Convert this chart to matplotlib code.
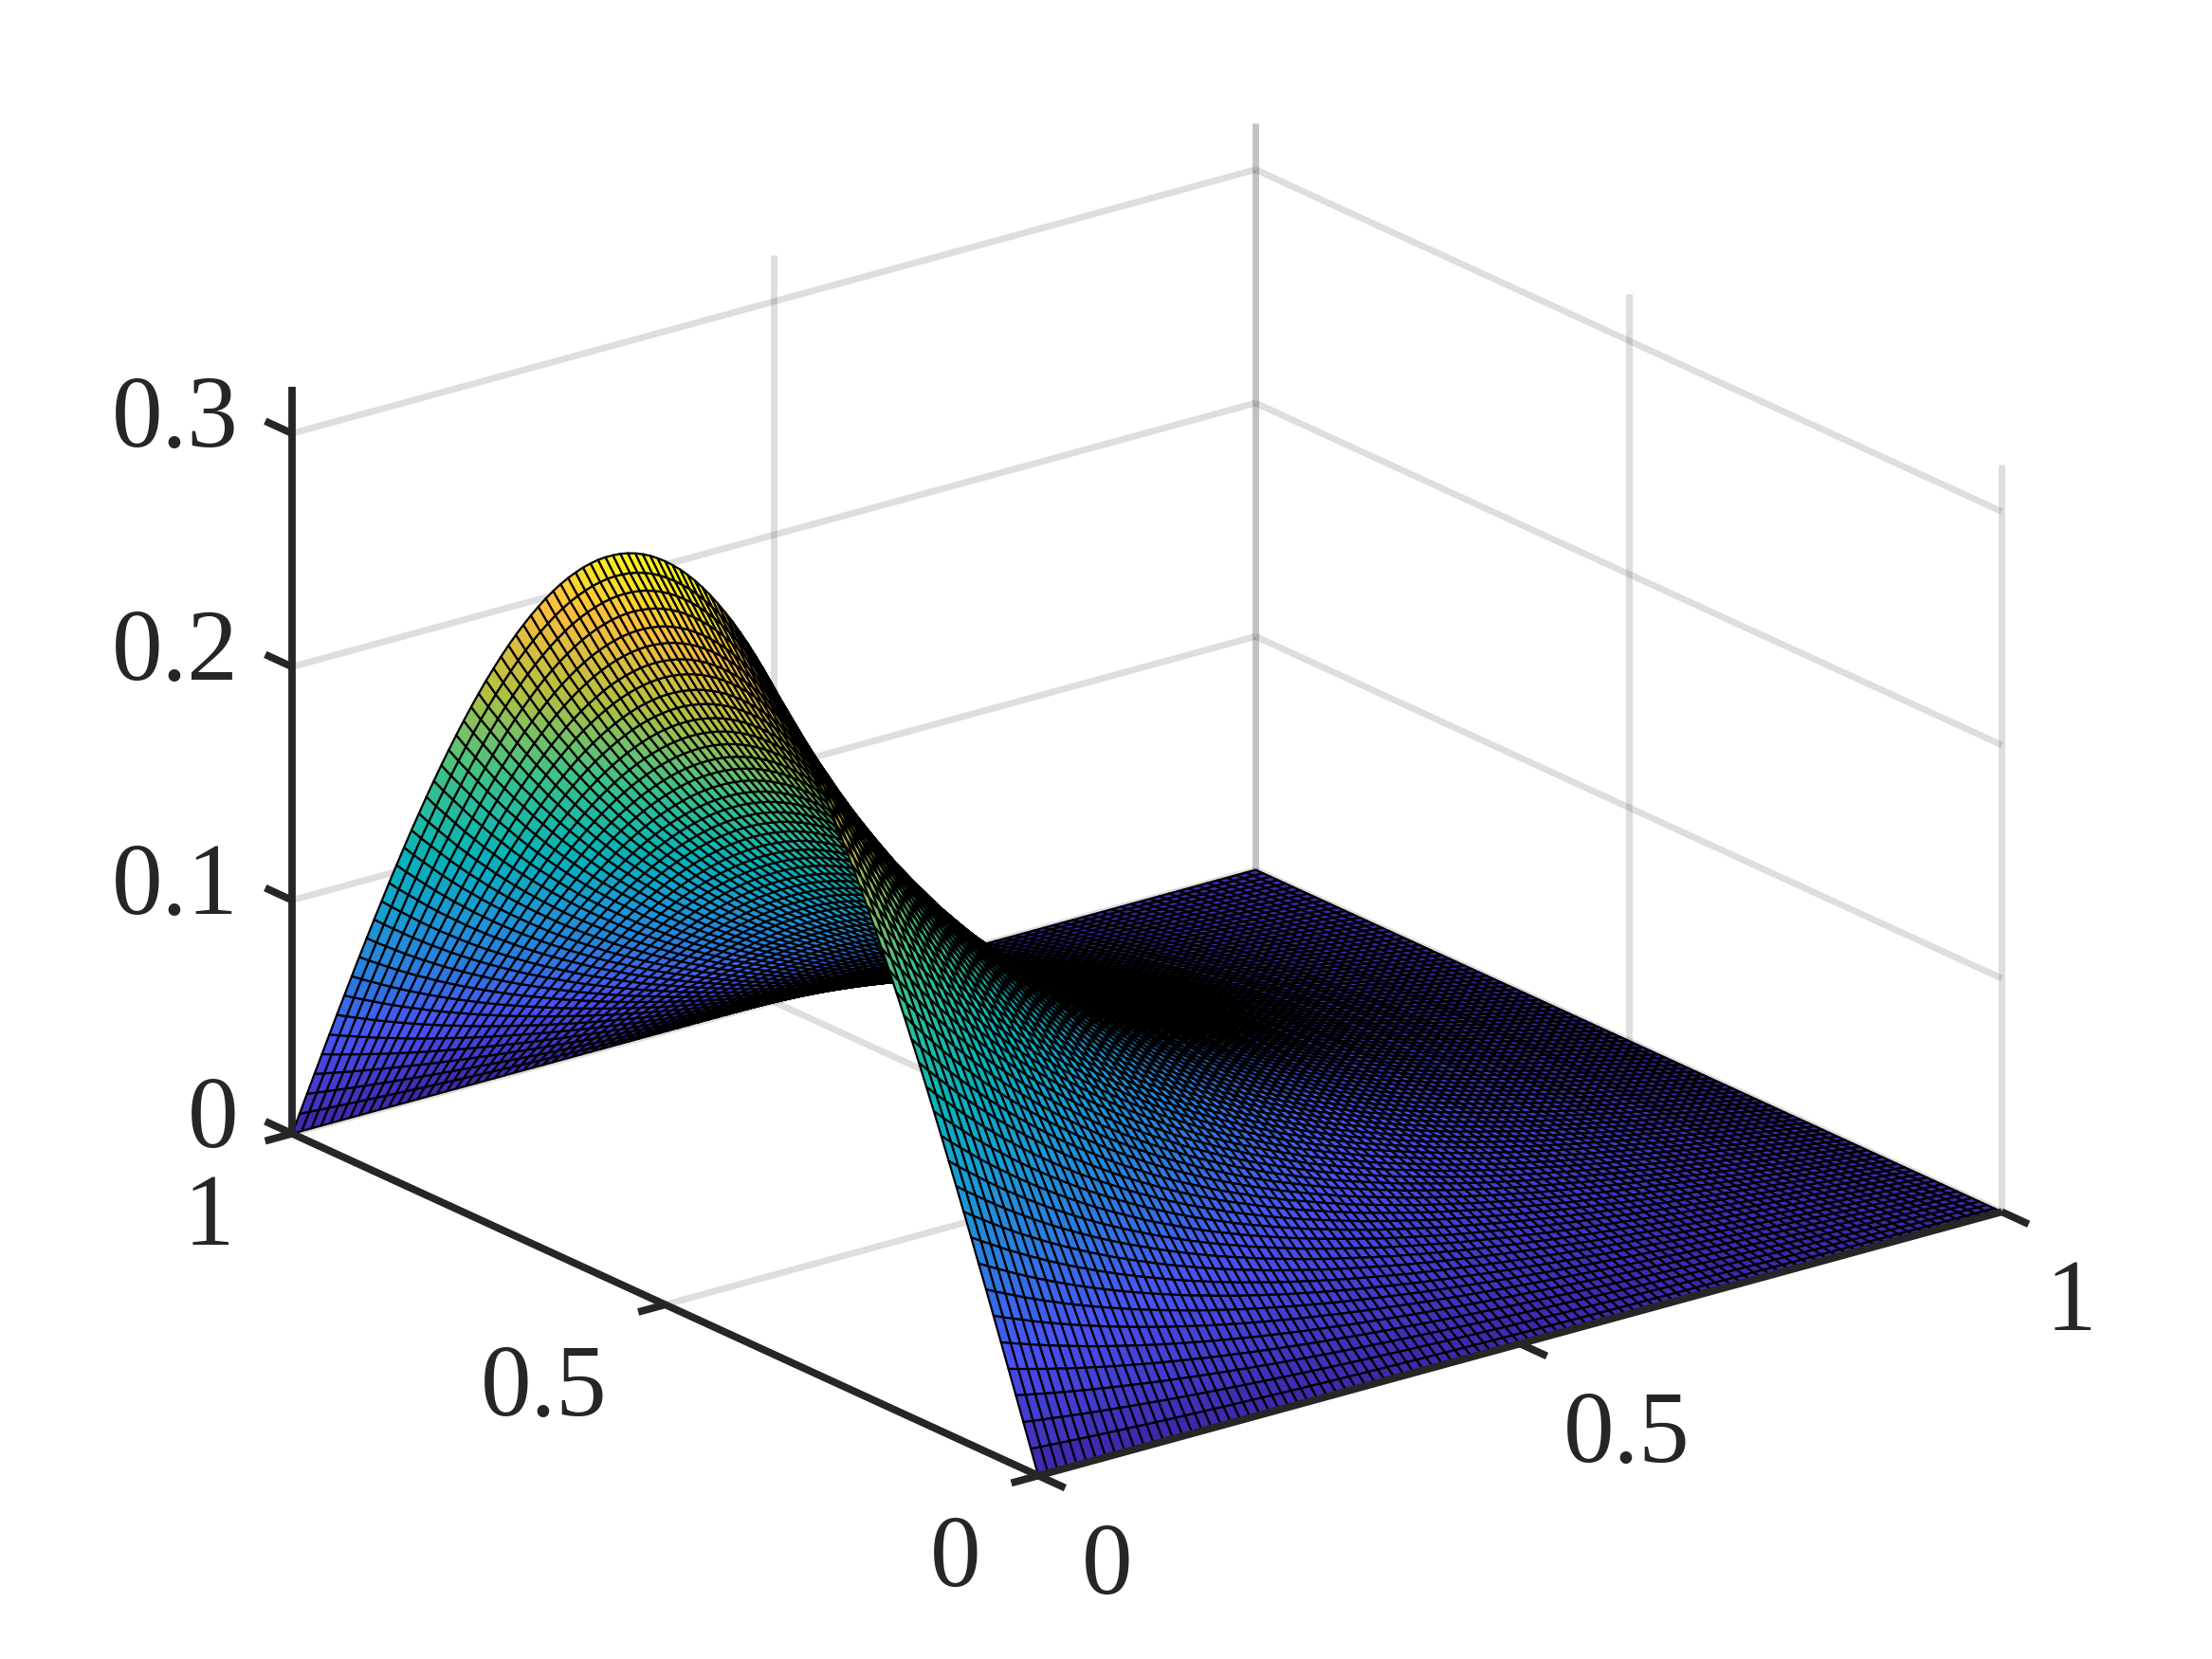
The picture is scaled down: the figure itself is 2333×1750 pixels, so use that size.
import numpy as np
import matplotlib
matplotlib.use('Agg')
import matplotlib.pyplot as plt
from matplotlib.colors import LinearSegmentedColormap
from mpl_toolkits.mplot3d import proj3d

# Height of the surface along its raised edge, read at steps of 0.01 along the left-hand floor axis
edge_height = [
0,.0100,.0200,.0300,.0399,.0498,.0597,.0695,.0792,.0889,
.0984,.1079,.1172,.1265,.1356,.1446,.1535,.1621,.1707,.1790,
.1872,.1952,.2030,.2106,.2180,.2252,.2322,.2389,.2454,.2517,
.2577,.2634,.2689,.2741,.2791,.2838,.2882,.2923,.2961,.2997,
.3029,.3059,.3085,.3108,.3129,.3146,.3160,.3171,.3179,.3183,
.3185,.3183,.3179,.3171,.3160,.3146,.3129,.3108,.3085,.3059,
.3029,.2997,.2961,.2923,.2882,.2838,.2791,.2741,.2689,.2634,
.2577,.2517,.2454,.2389,.2322,.2252,.2180,.2106,.2030,.1952,
.1872,.1790,.1707,.1621,.1535,.1446,.1356,.1265,.1172,.1079,
.0984,.0889,.0792,.0695,.0597,.0498,.0399,.0300,.0200,.0100,0]
# Fraction of that height left at steps of 0.01 along the right-hand floor axis
decay = [
1.000,.970,.942,.914,.886,.860,.834,.810,.785,.762,
.739,.717,.696,.675,.655,.635,.616,.598,.580,.563,
.546,.529,.513,.498,.483,.468,.454,.440,.427,.414,
.402,.389,.377,.366,.355,.344,.333,.323,.313,.303,
.294,.285,.276,.267,.259,.250,.242,.235,.227,.220,
.213,.206,.199,.192,.186,.180,.174,.168,.162,.156,
.151,.145,.140,.135,.130,.125,.120,.116,.111,.107,
.103,.098,.094,.090,.086,.082,.078,.075,.071,.067,
.064,.060,.057,.053,.050,.046,.043,.040,.037,.034,
.030,.027,.024,.021,.018,.015,.012,.009,.006,.003,0]

a_ticks = [0, 0.5, 1]
a_labels = ['0', '0.5', '1']
b_ticks = [0, 0.5, 1]
b_labels = ['0', '0.5', '1']
z_ticks = [0, 0.1, 0.2, 0.3]
z_labels = ['0', '0.1', '0.2', '0.3']
z_top = 0.32

parula_anchors = [(0.00, (0.2422, 0.1504, 0.6603)), (0.14, (0.282, 0.322, 0.958)),
                  (0.25, (0.155, 0.50, 0.87)), (0.33, (0.10, 0.60, 0.84)),
                  (0.43, (0.02, 0.70, 0.73)), (0.57, (0.23, 0.76, 0.54)),
                  (0.71, (0.70, 0.75, 0.25)), (0.86, (0.99, 0.74, 0.24)),
                  (1.00, (0.977, 0.984, 0.081))]
parula = LinearSegmentedColormap.from_list('parula', parula_anchors, N=256)

W, H = 2333, 1750
SCALE = 2333 / 1568
plt.rcParams['font.family'] = ['Liberation Serif', 'DejaVu Serif']
fig = plt.figure(figsize=(W / 100, H / 100), dpi=100, facecolor='white')

side = 1750.0
ax = fig.add_axes([0, 0, side / W, side / H], projection='3d', proj_type='ortho', computed_zorder=False)
ax.set_xlim(0, 1, view_margin=0)
ax.set_ylim(0, 1, view_margin=0)
ax.set_zlim(0, z_top, view_margin=0)
ax.set_box_aspect((1, 1.002, 0.656))
ax.view_init(elev=20.75, azim=-127.7)
ax.set_axis_off()
ax.patch.set_alpha(0)


def to_px(x, y, z):
    px, py, _ = proj3d.proj_transform(x, y, z, ax.get_proj())
    return ax.transData.transform((px, py))


# fit the axes box so that the floor corners land where the reference has them
target_o = np.array([736.0, 1176 - 1046.0]) * SCALE
target_a = np.array([1419.0, 1176 - 859.0]) * SCALE
left, bottom = 0.0, 0.0
for _ in range(3):
    ax.set_position([left / W, bottom / H, side / W, side / H])
    ax.apply_aspect()
    p0, p1 = to_px(0, 0, 0), to_px(1, 0, 0)
    s = np.linalg.norm(target_a - target_o) / np.linalg.norm(p1 - p0)
    side *= s
    left = target_o[0] - (p0[0] - left) * s
    bottom = target_o[1] - (p0[1] - bottom) * s
ax.set_position([left / W, bottom / H, side / W, side / H])
ax.apply_aspect()

a = np.arange(len(decay)) / (len(decay) - 1)
b = np.arange(len(edge_height)) / (len(edge_height) - 1)
A, B = np.meshgrid(a, b)
Z = np.outer(edge_height, decay)

grid_kw = dict(color=(0.15, 0.15, 0.15), alpha=0.15, lw=5.0, zorder=1, solid_capstyle='butt')
dark = '#262626'
axis_kw = dict(color=dark, lw=5.6, zorder=3, solid_capstyle='butt')
for z in z_ticks:
    ax.plot([0, 1], [1, 1], [z, z], **grid_kw)
    ax.plot([1, 1], [1, 0], [z, z], **grid_kw)
for t in a_ticks[1:]:
    ax.plot([t, t], [1, 1], [0, z_top], **grid_kw)
for t in b_ticks[:-1]:
    ax.plot([1, 1], [t, t], [0, z_top], **grid_kw)
ax.plot([1, 1], [1, 1], [0, z_top], **grid_kw)
ax.plot([0.5, 0.5], [0, 1], [0, 0], **grid_kw)
ax.plot([0, 1], [0.5, 0.5], [0, 0], **grid_kw)

ax.plot_surface(A, B, Z, rcount=Z.shape[0], ccount=Z.shape[1], cmap=parula, vmin=0, vmax=max(edge_height),
                edgecolor='k', linewidth=1.6, shade=False, antialiased=True, zorder=2)

ax.plot([0, 1], [0, 0], [0, 0], **axis_kw)
ax.plot([0, 0], [0, 1], [0, 0], **axis_kw)
ax.plot([0, 0], [1, 1], [0, z_top], **axis_kw)
tick_along_b = 0.036
tick_along_a = 0.028
for t in a_ticks:
    ax.plot([t, t], [0, -tick_along_b], [0, 0], **axis_kw)
for t in b_ticks:
    ax.plot([0, -tick_along_a], [t, t], [0, 0], **axis_kw)
for t in z_ticks:
    ax.plot([0, 0], [1, 1 + tick_along_b], [t, t], **axis_kw)

txt = dict(fontsize=77, color=dark, va='center')


def label(anchor, dx, dy, s, ha):
    px = to_px(*anchor)
    fig.text((px[0] + dx * SCALE) / W, (px[1] - dy * SCALE) / H, s, ha=ha, **txt)


for t, s in zip(z_ticks, z_labels):
    label((0, 1, t), -38, -8, s, 'right')
for t, s in zip(a_ticks, a_labels):
    label((t, 0, 0), 31, 66, s, 'left')
for t, s in zip(b_ticks, b_labels):
    label((0, t, 0), -41, 61, s, 'right')

fig.savefig('out.png', dpi=100, facecolor='white')
